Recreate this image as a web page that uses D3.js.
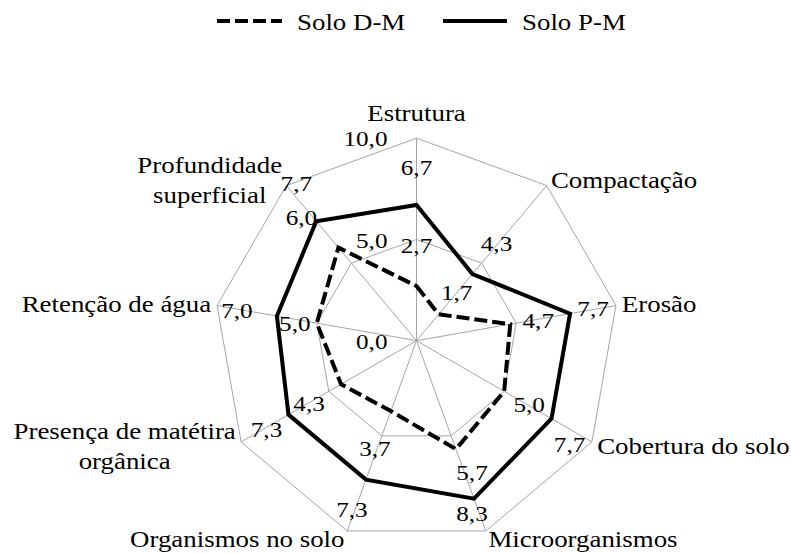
<!DOCTYPE html>
<html>
<head>
<meta charset="utf-8">
<script src="https://cdn.jsdelivr.net/npm/d3@7"></script>
<style>
body { margin: 0; background: #fff; }
svg { display: block; }
text { font-family: "Liberation Serif", "Times New Roman", serif; fill: #000; }
</style>
</head>
<body>
<div id="chart"></div>
<script>
// data
let categories = [
    "Estrutura",
    "Compactação",
    "Erosão",
    "Cobertura do solo",
    "Microorganismos",
    "Organismos no solo",
    "Presença de matétira\norgânica",
    "Retenção de água",
    "Profundidade\nsuperficial"
]
let soloDM = [2.7, 1.7, 4.7, 5.0, 5.7, 3.7, 4.3, 5.0, 6.0]
let soloPM = [6.7, 4.3, 7.7, 7.7, 8.3, 7.3, 7.3, 7.0, 7.7]
let tickValues = [0, 5, 10]
let seriesNames = ["Solo D-M", "Solo P-M"]

let width = 791
let height = 554

// center and outer radius of the web
let cx = 416.5
let cy = 340.7
let radius = 202.5

let catSize = 24, catStretch = 1.12
let numSize = 21, numStretch = 1.2

// the value labels were dragged by hand in the original, so each one gets its own nudge (px)
let nudgeDM = [[0, -40], [18, -21], [28, -3], [25, 14], [16, 24], [-16, 38], [-32, 20], [-22, 1], [-37, -30]]
let nudgePM = [[0, -37], [24, -30], [23, -5], [18, 26], [-2, 15], [-14, 30], [-22, 15], [-40, -5], [-20, -37]]

let svg = d3
    .select("#chart")
    .append("svg")
    .attr("width", width)
    .attr("height", height)

let ptBR = d3.formatLocale({decimal: ",", thousands: ".", grouping: [3], currency: ["R$", ""]})
let fmt = ptBR.format(".1f")

let r = d3.scaleLinear().domain([0, 10]).range([0, radius])
let angle = d3.scaleLinear().domain([0, categories.length]).range([0, 2 * Math.PI])

function px(i, v) { return cx + r(v) * Math.sin(angle(i)) }
function py(i, v) { return cy - r(v) * Math.cos(angle(i)) }

// text is a bit wider than plain Times in the original, so stretch it
function addText(parent, x, y, str, size, sx, anchor) {
    return parent.append("text")
        .attr("transform", `translate(${x},${y}) scale(${sx},1)`)
        .attr("text-anchor", anchor)
        .attr("dy", "0.34em")
        .style("font-size", size + "px")
        .text(str)
}

// grid
let grid = svg.append("g").attr("class", "grid")
    .attr("fill", "none")
    .attr("stroke", "#a6a6a6")
    .attr("stroke-width", 1)

tickValues.filter(t => t > 0).forEach(t => {
    grid.append("polygon")
        .attr("points", categories.map((c, i) => px(i, t) + "," + py(i, t)).join(" "))
})

categories.forEach((c, i) => {
    grid.append("line")
        .attr("x1", cx).attr("y1", cy)
        .attr("x2", px(i, 10)).attr("y2", py(i, 10))
})

// tick labels left of the first axis
let ticks = svg.append("g").attr("class", "ticks")
tickValues.forEach(t => {
    addText(ticks, cx - 29, cy - r(t) + 1, fmt(t), numSize, numStretch, "end")
})

// series
let radar = d3.lineRadial()
    .angle((d, i) => angle(i))
    .radius(d => r(d))
    .curve(d3.curveLinearClosed)

let plot = svg.append("g").attr("transform", `translate(${cx},${cy})`)

plot.append("path")
    .datum(soloDM)
    .attr("d", radar)
    .attr("fill", "none")
    .attr("stroke", "#000")
    .attr("stroke-width", 4)
    .attr("stroke-dasharray", "13,5")
    .attr("stroke-linejoin", "miter")

plot.append("path")
    .datum(soloPM)
    .attr("d", radar)
    .attr("fill", "none")
    .attr("stroke", "#000")
    .attr("stroke-width", 4)
    .attr("stroke-linejoin", "miter")

// data labels
let dataLabels = svg.append("g").attr("class", "dataLabels")
;[[soloDM, nudgeDM], [soloPM, nudgePM]].forEach(([series, nudge]) => {
    series.forEach((v, i) => {
        addText(dataLabels, px(i, v) + nudge[i][0], py(i, v) + nudge[i][1], fmt(v), numSize, numStretch, "middle")
    })
})

// category labels around the outer web
let catLabels = svg.append("g").attr("class", "catLabels")
categories.forEach((c, i) => {
    let a = angle(i)
    let s = Math.sin(a), co = Math.cos(a)
    let vx = px(i, 10), vy = py(i, 10)
    let lines = c.split("\n")
    let anchor, yc, xa
    if (Math.abs(s) < 0.1) {
        anchor = "middle"
        xa = vx
        yc = vy - 25 * Math.sign(co)
    } else {
        let gap = 1 + 5 * Math.abs(s)
        anchor = s > 0 ? "start" : "end"
        xa = s > 0 ? vx + gap : vx - gap
        yc = vy - 8 * co
    }
    let lineH = 30
    let y0 = yc - (lines.length - 1) * lineH / 2
    if (lines.length === 1) {
        addText(catLabels, xa, yc, c, catSize, catStretch, anchor)
    } else {
        // multi-line labels are centred on each other
        let nodes = lines.map((l, k) => addText(catLabels, 0, y0 + k * lineH, l, catSize, catStretch, "middle"))
        let maxW = d3.max(nodes, n => n.node().getComputedTextLength()) * catStretch
        let mid = anchor === "start" ? xa + maxW / 2 : anchor === "end" ? xa - maxW / 2 : xa
        nodes.forEach((n, k) => n.attr("transform", `translate(${mid},${y0 + k * lineH}) scale(${catStretch},1)`))
    }
})

// legend
let legend = svg.append("g").attr("class", "legend")
legend.append("line")
    .attr("x1", 217).attr("x2", 282).attr("y1", 21).attr("y2", 21)
    .attr("stroke", "#000").attr("stroke-width", 4).attr("stroke-dasharray", "13,5")
addText(legend, 297, 22, seriesNames[0], catSize, catStretch, "start")
legend.append("line")
    .attr("x1", 443).attr("x2", 507).attr("y1", 21).attr("y2", 21)
    .attr("stroke", "#000").attr("stroke-width", 4)
addText(legend, 522, 22, seriesNames[1], catSize, catStretch, "start")
</script>
</body>
</html>
